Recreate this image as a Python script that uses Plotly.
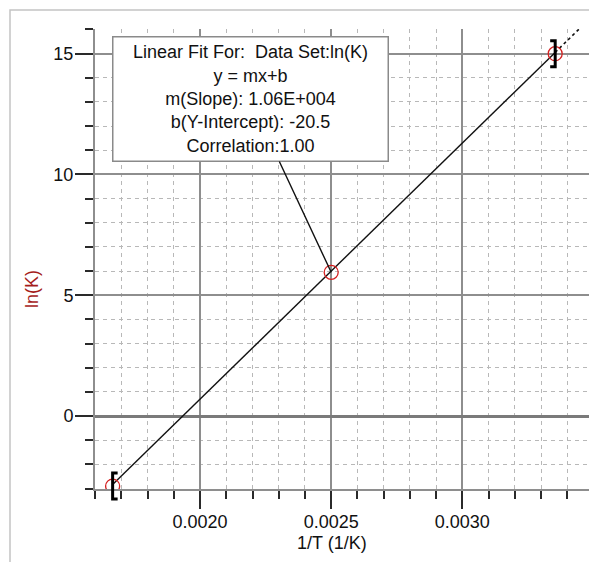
import numpy as np
import plotly.graph_objects as go

# ---- data ----
inv_T = [0.0016667, 0.0025, 0.003354]      # 1/T (1/K)
lnK = [-2.9, 5.95, 15.0]                    # ln(K)
fit_slope = 1.06e4
fit_intercept = -20.5
fit_text = ["Linear Fit For:  Data Set:ln(K)", "y = mx+b",
            "m(Slope): 1.06E+004", "b(Y-Intercept): -20.5", "Correlation:1.00"]
x_range = [0.0015995, 0.0034829]
y_range = [-3.02, 16.02]

W, H = 589, 562
ML, MR, MT, MB = 95, 0, 29, 73
PW, PH = W - ML - MR, H - MT - MB

FONT = "Liberation Sans, Arial, sans-serif"
GRID_MAJOR = "#8e8e8e"
GRID_MINOR = "#b8b8b8"
TICKC = "#2a2a2a"


def to_paper_x(v):
    return (v - x_range[0]) / (x_range[1] - x_range[0])


def to_paper_y(v):
    return (v - y_range[0]) / (y_range[1] - y_range[0])


fig = go.Figure()

# fit line: solid over the fitted region, dotted beyond
xs_solid = np.array([min(inv_T), max(inv_T)])
fig.add_trace(go.Scatter(x=xs_solid, y=fit_slope * xs_solid + fit_intercept,
                         mode="lines", line=dict(color="#111111", width=1.4),
                         hoverinfo="skip", showlegend=False))
xs_dot = np.array([max(inv_T), x_range[1] + 0.0002])
fig.add_trace(go.Scatter(x=xs_dot, y=fit_slope * xs_dot + fit_intercept,
                         mode="lines", line=dict(color="#111111", width=1.6, dash="dot"),
                         hoverinfo="skip", showlegend=False))

# data points
fig.add_trace(go.Scatter(x=inv_T, y=lnK, mode="markers",
                         marker=dict(symbol="circle-open", size=14,
                                     color="#d42020", line=dict(width=1.3, color="#d42020")),
                         cliponaxis=True, showlegend=False))


# region brackets at first and last point (paper refs so they are not clipped)
def bracket(xv, yv, side):
    s = 1 if side == "left" else -1
    path = f"M {5*s} -13 L 0 -13 L 0 13 L {5*s} 13"
    return dict(type="path", xref="paper", yref="paper", xsizemode="pixel", ysizemode="pixel",
                xanchor=to_paper_x(xv), yanchor=to_paper_y(yv), path=path,
                line=dict(color="black", width=3), layer="above")


shapes = [bracket(inv_T[0], lnK[0], "left"), bracket(inv_T[-1], lnK[-1], "right")]

# outer light frame
shapes.append(dict(type="rect", xref="paper", yref="paper",
                   x0=(10 - ML) / PW, x1=(W + 20 - ML) / PW,
                   y0=(MT + PH - (H + 20)) / PH, y1=(MT + PH - 10) / PH,
                   line=dict(color="#c4c4c4", width=1.5), fillcolor="rgba(0,0,0,0)",
                   layer="below"))

# annotation box offset from middle point
ax_off, ay_off = -81, -173
fig.add_annotation(x=inv_T[1], y=lnK[1], ax=ax_off, ay=ay_off,
                   text="<br>".join(fit_text), showarrow=True, arrowhead=0,
                   arrowwidth=1.4, arrowcolor="#111111", standoff=0,
                   font=dict(family=FONT, size=18, color="#111111"),
                   bgcolor="white", bordercolor="#8a8a8a", borderwidth=1.5,
                   borderpad=2, width=270, height=119, align="center")
# small gray square at the box's top-right corner
shapes.append(dict(type="rect", xref="x", yref="y", xsizemode="pixel", ysizemode="pixel",
                   xanchor=inv_T[1], yanchor=lnK[1], x0=47, x1=57, y0=223, y1=233,
                   line=dict(color="#333333", width=1.2), fillcolor="#cfcfcf", layer="above"))

# axis titles
fig.add_annotation(xref="paper", yref="paper", x=(332 - ML) / PW, y=(MT + PH - 543) / PH,
                   text="1/T (1/K)", showarrow=False, xanchor="center", yanchor="middle",
                   font=dict(family=FONT, size=18, color="#111111"))
fig.add_annotation(xref="paper", yref="paper", x=(32 - ML) / PW, y=(MT + PH - 289) / PH,
                   text="ln(K)", showarrow=False, textangle=-90, xanchor="center", yanchor="middle",
                   font=dict(family=FONT, size=18, color="#a51c1c"))

fig.update_layout(
    width=W, height=H, margin=dict(l=ML, r=MR, t=MT, b=MB, pad=0),
    paper_bgcolor="white", plot_bgcolor="white", showlegend=False,
    font=dict(family=FONT, size=18, color="#111111"),
    shapes=shapes,
    xaxis=dict(range=x_range, tick0=0, dtick=0.0005, tickformat=".4f",
               ticks="outside", ticklen=18, tickwidth=2, tickcolor=TICKC,
               ticklabelstandoff=-3,
               showgrid=True, gridcolor=GRID_MAJOR, gridwidth=1.6,
               showline=True, linecolor=GRID_MAJOR, linewidth=2,
               zeroline=False, fixedrange=True,
               tickfont=dict(family=FONT, size=18, color="#111111"),
               minor=dict(tick0=0, dtick=0.0001, ticks="outside", ticklen=8, tickwidth=2,
                          tickcolor=TICKC, showgrid=True, gridcolor=GRID_MINOR,
                          gridwidth=1, griddash="4px,4px")),
    yaxis=dict(range=y_range, tick0=0, dtick=5,
               ticks="outside", ticklen=18, tickwidth=2, tickcolor=TICKC,
               ticklabelstandoff=-2,
               showgrid=True, gridcolor=GRID_MAJOR, gridwidth=1.6,
               showline=True, linecolor=GRID_MAJOR, linewidth=2,
               zeroline=True, zerolinecolor="#7a7a7a", zerolinewidth=3, fixedrange=True,
               tickfont=dict(family=FONT, size=18, color="#111111"),
               minor=dict(tick0=0, dtick=1, ticks="outside", ticklen=8, tickwidth=2,
                          tickcolor=TICKC, showgrid=True, gridcolor=GRID_MINOR,
                          gridwidth=1, griddash="4px,4px")),
)

fig.write_html("out.html", config={"displayModeBar": False},
               post_script="document.body.style.margin='0';document.body.style.overflow='hidden';")
